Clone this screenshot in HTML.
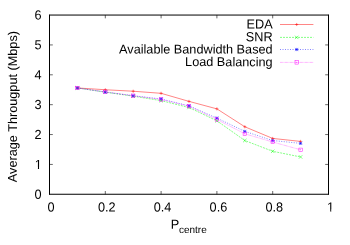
<!DOCTYPE html>
<html><head><meta charset="utf-8"><style>html,body{margin:0;padding:0;background:#fff}svg{display:block;will-change:transform}text{font-family:"Liberation Sans",sans-serif;fill:#000;text-rendering:geometricPrecision}</style></head><body>
<svg width="350" height="245" viewBox="0 0 350 245">
<rect width="350" height="245" fill="#fff"/>
<path d="M49.5 14.55V194.85M328.5 14.55V194.85" stroke="#000" stroke-width="1" fill="none"/>
<path d="M49.5 15.05H328.5" stroke="#000" stroke-width="1" fill="none"/>
<path d="M49.5 194.3H328.5" stroke="#000" stroke-width="1.1" fill="none"/>
<path d="M49.5 164.43h3.3M328.5 164.43h-3.3M49.5 134.55h3.3M328.5 134.55h-3.3M49.5 104.68h3.3M328.5 104.68h-3.3M49.5 74.80h3.3M328.5 74.80h-3.3M49.5 44.93h3.3M328.5 44.93h-3.3M105.30 194.3v-3.3M105.30 15.05v3.3M161.10 194.3v-3.3M161.10 15.05v3.3M216.90 194.3v-3.3M216.90 15.05v3.3M272.70 194.3v-3.3M272.70 15.05v3.3" stroke="#000" stroke-width="0.6" fill="none"/>
<text font-size="12.7" text-anchor="end" transform="translate(41.65 198.70) rotate(0.03) scale(1 1.035)">0</text>
<text font-size="12.7" text-anchor="end" transform="translate(41.80 168.98) rotate(0.03) scale(1 1.035)">1</text>
<text font-size="12.7" text-anchor="end" transform="translate(41.65 138.95) rotate(0.03) scale(1 1.035)">2</text>
<text font-size="12.7" text-anchor="end" transform="translate(41.65 109.08) rotate(0.03) scale(1 1.035)">3</text>
<text font-size="12.7" text-anchor="end" transform="translate(41.65 79.20) rotate(0.03) scale(1 1.035)">4</text>
<text font-size="12.7" text-anchor="end" transform="translate(41.65 49.33) rotate(0.03) scale(1 1.035)">5</text>
<text font-size="12.7" text-anchor="end" transform="translate(41.65 19.45) rotate(0.03) scale(1 1.035)">6</text>
<text font-size="12.7" text-anchor="middle" transform="translate(51.00 211.50) rotate(0.03) scale(1 1.035)">0</text>
<text font-size="12.7" text-anchor="middle" transform="translate(106.80 211.50) rotate(0.03) scale(1 1.035)">0.2</text>
<text font-size="12.7" text-anchor="middle" transform="translate(162.60 211.50) rotate(0.03) scale(1 1.035)">0.4</text>
<text font-size="12.7" text-anchor="middle" transform="translate(218.40 211.50) rotate(0.03) scale(1 1.035)">0.6</text>
<text font-size="12.7" text-anchor="middle" transform="translate(274.20 211.50) rotate(0.03) scale(1 1.035)">0.8</text>
<text font-size="12.7" text-anchor="middle" transform="translate(330.50 211.50) rotate(0.03) scale(1 1.035)">1</text>
<rect x="326.64" y="209.62" width="3.53" height="2.58" fill="#fff"/><rect x="331.28" y="209.62" width="3.43" height="2.58" fill="#fff"/>
<rect x="34.40" y="167.09" width="3.53" height="2.58" fill="#fff"/><rect x="39.05" y="167.09" width="3.43" height="2.58" fill="#fff"/>
<text transform="translate(16.9,106.6) rotate(-89.97)" font-size="12.7" text-anchor="middle">Average Througput (Mbps)</text>
<text font-size="12.7" text-anchor="start" transform="translate(170.80 228.70) rotate(0.03) scale(1 1.04)">P</text>
<text font-size="10" text-anchor="start" transform="translate(178.95 233.00) rotate(0.03)">centre</text>
<text font-size="12.7" text-anchor="end" transform="translate(272.60 28.60) rotate(0.03) scale(1 1.04)">EDA</text>
<text font-size="12.7" text-anchor="end" transform="translate(272.60 41.15) rotate(0.03) scale(1 1.04)">SNR</text>
<text font-size="12.7" text-anchor="end" transform="translate(272.60 53.60) rotate(0.03)">Available Bandwidth Based</text>
<text font-size="12.7" text-anchor="end" transform="translate(272.60 66.15) rotate(0.03)">Load Balancing</text>
<path d="M280.0 24.5H313.4" stroke="#ff0000" stroke-width="0.48" fill="none"/>
<path d="M295.15 24.50H298.25M296.70 22.95V26.05" stroke="#ff0000" stroke-width="0.5" fill="none"/>
<path d="M280.0 37.4H313.4" stroke="#00ff00" stroke-width="0.48" fill="none" stroke-dasharray="2 1"/>
<path d="M295.00 35.70L298.40 39.10M295.00 39.10L298.40 35.70" stroke="#00ff00" stroke-width="0.5" fill="none"/>
<path d="M280.0 49.5H313.4" stroke="#0000ff" stroke-width="0.48" fill="none" stroke-dasharray="1 1.5"/>
<path d="M295.10 49.50H298.30M296.70 47.90V51.10" stroke="#0000ff" stroke-width="0.5" fill="none"/><path d="M295.10 47.90L298.30 51.10M295.10 51.10L298.30 47.90" stroke="#0000ff" stroke-width="0.5" fill="none"/>
<path d="M280.0 62.4H313.4" stroke="#ff00ff" stroke-width="0.48" fill="none" stroke-dasharray="0.6 0.65"/>
<rect x="295.00" y="60.70" width="3.4" height="3.4" stroke="#ff00ff" stroke-width="0.5" fill="none"/><path d="M296.40 62.40H297.00M296.70 62.10V62.70" stroke="#ff00ff" stroke-width="0.5" fill="none"/>
<polyline points="77.40,87.95 105.30,89.74 133.20,91.23 161.10,93.32 189.00,101.39 216.90,108.86 244.80,126.78 272.70,138.43 300.60,141.42" fill="none" stroke="#ff0000" stroke-width="0.48"/><path d="M75.85 87.95H78.95M77.40 86.40V89.50" stroke="#ff0000" stroke-width="0.5" fill="none"/><path d="M103.75 89.74H106.85M105.30 88.19V91.29" stroke="#ff0000" stroke-width="0.5" fill="none"/><path d="M131.65 91.23H134.75M133.20 89.68V92.78" stroke="#ff0000" stroke-width="0.5" fill="none"/><path d="M159.55 93.32H162.65M161.10 91.77V94.87" stroke="#ff0000" stroke-width="0.5" fill="none"/><path d="M187.45 101.39H190.55M189.00 99.84V102.94" stroke="#ff0000" stroke-width="0.5" fill="none"/><path d="M215.35 108.86H218.45M216.90 107.31V110.41" stroke="#ff0000" stroke-width="0.5" fill="none"/><path d="M243.25 126.78H246.35M244.80 125.23V128.33" stroke="#ff0000" stroke-width="0.5" fill="none"/><path d="M271.15 138.43H274.25M272.70 136.88V139.98" stroke="#ff0000" stroke-width="0.5" fill="none"/><path d="M299.05 141.42H302.15M300.60 139.87V142.97" stroke="#ff0000" stroke-width="0.5" fill="none"/>
<polyline points="77.40,87.95 105.30,92.13 133.20,96.16 161.10,100.64 189.00,107.51 216.90,120.81 244.80,140.53 272.70,151.28 300.60,156.96" fill="none" stroke="#00ff00" stroke-width="0.48" stroke-dasharray="2 1"/><path d="M75.70 86.25L79.10 89.65M75.70 89.65L79.10 86.25" stroke="#00ff00" stroke-width="0.5" fill="none"/><path d="M103.60 90.43L107.00 93.83M103.60 93.83L107.00 90.43" stroke="#00ff00" stroke-width="0.5" fill="none"/><path d="M131.50 94.46L134.90 97.86M131.50 97.86L134.90 94.46" stroke="#00ff00" stroke-width="0.5" fill="none"/><path d="M159.40 98.94L162.80 102.34M159.40 102.34L162.80 98.94" stroke="#00ff00" stroke-width="0.5" fill="none"/><path d="M187.30 105.81L190.70 109.21M187.30 109.21L190.70 105.81" stroke="#00ff00" stroke-width="0.5" fill="none"/><path d="M215.20 119.11L218.60 122.51M215.20 122.51L218.60 119.11" stroke="#00ff00" stroke-width="0.5" fill="none"/><path d="M243.10 138.83L246.50 142.22M243.10 142.22L246.50 138.83" stroke="#00ff00" stroke-width="0.5" fill="none"/><path d="M271.00 149.58L274.40 152.98M271.00 152.98L274.40 149.58" stroke="#00ff00" stroke-width="0.5" fill="none"/><path d="M298.90 155.26L302.30 158.66M298.90 158.66L302.30 155.26" stroke="#00ff00" stroke-width="0.5" fill="none"/>
<polyline points="77.40,87.95 105.30,92.13 133.20,95.71 161.10,99.00 189.00,105.87 216.90,118.12 244.80,131.41 272.70,140.53 300.60,143.36" fill="none" stroke="#0000ff" stroke-width="0.48" stroke-dasharray="1 1.5"/><path d="M75.80 87.95H79.00M77.40 86.35V89.55" stroke="#0000ff" stroke-width="0.5" fill="none"/><path d="M75.80 86.35L79.00 89.55M75.80 89.55L79.00 86.35" stroke="#0000ff" stroke-width="0.5" fill="none"/><path d="M103.70 92.13H106.90M105.30 90.53V93.73" stroke="#0000ff" stroke-width="0.5" fill="none"/><path d="M103.70 90.53L106.90 93.73M103.70 93.73L106.90 90.53" stroke="#0000ff" stroke-width="0.5" fill="none"/><path d="M131.60 95.71H134.80M133.20 94.11V97.31" stroke="#0000ff" stroke-width="0.5" fill="none"/><path d="M131.60 94.11L134.80 97.31M131.60 97.31L134.80 94.11" stroke="#0000ff" stroke-width="0.5" fill="none"/><path d="M159.50 99.00H162.70M161.10 97.40V100.60" stroke="#0000ff" stroke-width="0.5" fill="none"/><path d="M159.50 97.40L162.70 100.60M159.50 100.60L162.70 97.40" stroke="#0000ff" stroke-width="0.5" fill="none"/><path d="M187.40 105.87H190.60M189.00 104.27V107.47" stroke="#0000ff" stroke-width="0.5" fill="none"/><path d="M187.40 104.27L190.60 107.47M187.40 107.47L190.60 104.27" stroke="#0000ff" stroke-width="0.5" fill="none"/><path d="M215.30 118.12H218.50M216.90 116.52V119.72" stroke="#0000ff" stroke-width="0.5" fill="none"/><path d="M215.30 116.52L218.50 119.72M215.30 119.72L218.50 116.52" stroke="#0000ff" stroke-width="0.5" fill="none"/><path d="M243.20 131.41H246.40M244.80 129.81V133.01" stroke="#0000ff" stroke-width="0.5" fill="none"/><path d="M243.20 129.81L246.40 133.01M243.20 133.01L246.40 129.81" stroke="#0000ff" stroke-width="0.5" fill="none"/><path d="M271.10 140.53H274.30M272.70 138.93V142.12" stroke="#0000ff" stroke-width="0.5" fill="none"/><path d="M271.10 138.93L274.30 142.12M271.10 142.12L274.30 138.93" stroke="#0000ff" stroke-width="0.5" fill="none"/><path d="M299.00 143.36H302.20M300.60 141.76V144.96" stroke="#0000ff" stroke-width="0.5" fill="none"/><path d="M299.00 141.76L302.20 144.96M299.00 144.96L302.20 141.76" stroke="#0000ff" stroke-width="0.5" fill="none"/>
<polyline points="77.40,87.95 105.30,91.83 133.20,95.71 161.10,99.45 189.00,106.17 216.90,119.46 244.80,133.80 272.70,142.02 300.60,149.79" fill="none" stroke="#ff00ff" stroke-width="0.48" stroke-dasharray="0.6 0.65"/><rect x="75.70" y="86.25" width="3.4" height="3.4" stroke="#ff00ff" stroke-width="0.5" fill="none"/><path d="M77.10 87.95H77.70M77.40 87.65V88.25" stroke="#ff00ff" stroke-width="0.5" fill="none"/><rect x="103.60" y="90.13" width="3.4" height="3.4" stroke="#ff00ff" stroke-width="0.5" fill="none"/><path d="M105.00 91.83H105.60M105.30 91.53V92.13" stroke="#ff00ff" stroke-width="0.5" fill="none"/><rect x="131.50" y="94.01" width="3.4" height="3.4" stroke="#ff00ff" stroke-width="0.5" fill="none"/><path d="M132.90 95.71H133.50M133.20 95.41V96.01" stroke="#ff00ff" stroke-width="0.5" fill="none"/><rect x="159.40" y="97.75" width="3.4" height="3.4" stroke="#ff00ff" stroke-width="0.5" fill="none"/><path d="M160.80 99.45H161.40M161.10 99.15V99.75" stroke="#ff00ff" stroke-width="0.5" fill="none"/><rect x="187.30" y="104.47" width="3.4" height="3.4" stroke="#ff00ff" stroke-width="0.5" fill="none"/><path d="M188.70 106.17H189.30M189.00 105.87V106.47" stroke="#ff00ff" stroke-width="0.5" fill="none"/><rect x="215.20" y="117.76" width="3.4" height="3.4" stroke="#ff00ff" stroke-width="0.5" fill="none"/><path d="M216.60 119.46H217.20M216.90 119.16V119.76" stroke="#ff00ff" stroke-width="0.5" fill="none"/><rect x="243.10" y="132.10" width="3.4" height="3.4" stroke="#ff00ff" stroke-width="0.5" fill="none"/><path d="M244.50 133.80H245.10M244.80 133.50V134.10" stroke="#ff00ff" stroke-width="0.5" fill="none"/><rect x="271.00" y="140.32" width="3.4" height="3.4" stroke="#ff00ff" stroke-width="0.5" fill="none"/><path d="M272.40 142.02H273.00M272.70 141.72V142.32" stroke="#ff00ff" stroke-width="0.5" fill="none"/><rect x="298.90" y="148.09" width="3.4" height="3.4" stroke="#ff00ff" stroke-width="0.5" fill="none"/><path d="M300.30 149.79H300.90M300.60 149.49V150.09" stroke="#ff00ff" stroke-width="0.5" fill="none"/>
</svg></body></html>
